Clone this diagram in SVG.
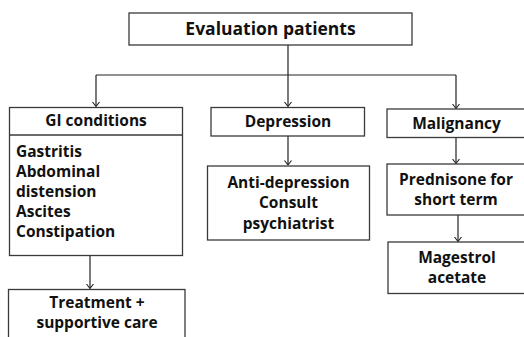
<svg xmlns="http://www.w3.org/2000/svg" width="524" height="337" viewBox="0 0 524 337">
<style>
.box{fill:#fff;stroke:#3a3a3a;stroke-width:1.3}
.t{font-family:"Open Sans","Liberation Sans",sans-serif;font-weight:bold;font-size:15.5px;fill:#111}
.c{text-anchor:middle}
.big{font-size:17.5px}
.ln{fill:none;stroke:#222;stroke-width:1.2}
</style>
<defs>
<marker id="ah" markerUnits="userSpaceOnUse" markerWidth="10" markerHeight="10" refX="5" refY="6" orient="auto" viewBox="0 0 10 10">
<path d="M5,6 L1.5,1.5 M5,6 L8.5,1.5" transform="rotate(-90 5 6)" stroke="#222" stroke-width="1.1" fill="none"/>
</marker>
</defs>
<g id="connectors">
<path class="ln" d="M288,45 V106.5" marker-end="url(#ah)"/>
<path class="ln" d="M96,75 H456"/>
<path class="ln" d="M96,75 V106.5" marker-end="url(#ah)"/>
<path class="ln" d="M456,75 V108.5" marker-end="url(#ah)"/>
<path class="ln" d="M288,136 V165" marker-end="url(#ah)"/>
<path class="ln" d="M90,255 V288.5" marker-end="url(#ah)"/>
<path class="ln" d="M456,138 V163.5" marker-end="url(#ah)"/>
<path class="ln" d="M458,215 V241.5" marker-end="url(#ah)"/>
</g>
<g id="n-eval">
<rect class="box" x="129" y="13" width="283" height="32"/>
<text class="t c big" x="270.5" y="35">Evaluation patients</text>
</g>
<g id="n-gi">
<rect class="box" x="9.5" y="107.5" width="173" height="148"/>
<line x1="9.5" y1="135" x2="182.5" y2="135" stroke="#3a3a3a" stroke-width="1.3"/>
<text class="t c" x="96" y="126">GI conditions</text>
<text class="t" x="16" y="157">Gastritis</text>
<text class="t" x="16" y="177">Abdominal</text>
<text class="t" x="16" y="197">distension</text>
<text class="t" x="16" y="217">Ascites</text>
<text class="t" x="16" y="237">Constipation</text>
</g>
<g id="n-treat">
<rect class="box" x="8.5" y="289.5" width="176.5" height="60"/>
<text class="t c" x="97" y="308">Treatment +</text>
<text class="t c" x="97" y="328">supportive care</text>
</g>
<g id="n-dep">
<rect class="box" x="211" y="107.5" width="153.5" height="28.5"/>
<text class="t c" x="288" y="127">Depression</text>
</g>
<g id="n-anti">
<rect class="box" x="207.5" y="166" width="162" height="74"/>
<text class="t c" x="288.5" y="187.5">Anti-depression</text>
<text class="t c" x="288.5" y="208">Consult</text>
<text class="t c" x="288.5" y="228.5">psychiatrist</text>
</g>
<g id="n-mal">
<rect class="box" x="387" y="109" width="145" height="28.5"/>
<text class="t c" x="456.5" y="128.5">Malignancy</text>
</g>
<g id="n-pred">
<rect class="box" x="387" y="164" width="145" height="51"/>
<text class="t c" x="456" y="184.5">Prednisone for</text>
<text class="t c" x="456" y="205">short term</text>
</g>
<g id="n-mag">
<rect class="box" x="388" y="242" width="145" height="51.5"/>
<text class="t c" x="457" y="263">Magestrol</text>
<text class="t c" x="457" y="283">acetate</text>
</g>
</svg>
